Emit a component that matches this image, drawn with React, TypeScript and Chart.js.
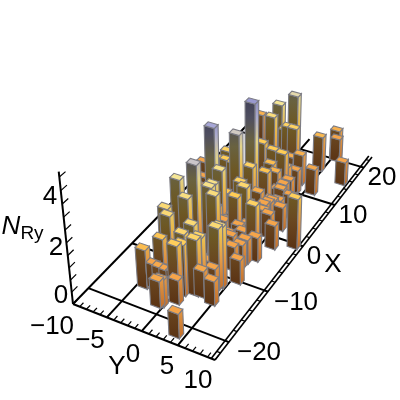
import React, { useEffect, useRef } from "react";
import { Chart, registerables } from "chart.js";
Chart.register(...registerables);

const barY = [-4.1,-3.8,-3.0,-1.8,-1.0,-0.1,-0.8,-0.5,0.9,3.9,4.8,3.0,3.8,5.7,2.6,5.6,4.7,2.7,3.9,2.6,3.6,0.9,0.1,0.8,6.4,3.4,3.7,4.0,
 4.1,3.7,3.9,2.2,3.4,5.9,5.4,5.6,8.6,4.4,-6.2,3.7,0.6,0.2,0.8,1.0,2.2,2.5,3.9,4.2,-2.5,-3.5,-3.9,-1.8,-1.7,-1.8,0.9,
 0.7,-0.7,-0.5,-3.5,-4.0,-3.2,-2.0,1.4,2.8,1.3,-0.4,-1.0,1.1,2.0,0.5,-0.8,1.3,2.8,2.2,5.1,8.9,-2.8,-0.1,0.0,-8.5,-6.6,-5.5,
 2.1,4.6,2.4,5.6,3.5,3.5,2.9,4.9,5.6,0.4,3.5,4.2,3.7,4.7,-3.6,-2.1,2.1,2.0,-0.6,-0.3,1.8,0.9,2.4,2.9,1.5];
const barX = [-16.2,-16.0,-15.7,-16.2,-15.9,-15.7,-18.4,-18.1,-16.8,-21.8,-14.9,-14.3,-12.9,-10.0,-11.9,-5.1,-6.1,-6.3,-8.1,-4.0,-4.8,-2.3,-1.0,-3.7,-1.9,1.5,2.2,2.8,
 5.1,10.4,7.9,11.9,12.5,11.2,20.4,20.1,15.2,16.8,19.1,2.9,-14.6,-15.7,-15.1,-13.0,-14.4,-13.8,-12.1,-11.7,-12.8,-11.7,-8.0,-9.6,-7.5,-2.8,3.0,
 -7.0,-2.9,1.3,4.2,3.1,3.3,3.1,-1.2,-2.8,14.9,13.5,12.4,13.3,13.3,13.5,9.1,8.3,8.1,4.2,-4.7,-0.5,-14.2,-6.7,-6.0,6.2,3.1,1.1,
 -5.9,-7.3,-8.0,4.9,5.3,0.3,-1.4,-0.1,2.0,-4.0,-3.3,-0.1,6.7,3.2,-1.7,-4.6,-0.4,2.6,-4.2,-2.2,-3.4,2.4,6.8,9.0,7.2];
const barZ = [1.6,1,1,1.1,1,1,1.1,1.1,1,1,1,1.1,1,1,1,1,1,1,1,1,1,1,1,1,1,1,1,1,
 1.1,1,1,1.2,1.3,1.1,1.3,1,1,1.5,1.3,1,2.4,2.1,2.1,2.5,2.3,2.3,2.5,2.5,2.5,2.5,3,2.7,3.7,4.4,4.7,
 2.6,2.8,3.6,2.2,2,2,2,2.2,2.4,3.3,3,2.6,2.2,2.2,2,2,2,2,1.8,2.2,2.1,1.8,2.8,2.8,1,1,1,
 1,1,1,1,1,1,1,1,1,1,1,1.1,1,1,1.3,1,1.3,1.2,1.5,1.8,2,2.2,1.4,1.3,1.6];
const xGrid=[-20,-10,0,10,20], yGrid=[-10,-5,0,5];
const xLabels=["\u221220","\u221210","0","10","20"], yLabels=["\u221210","\u22125","0","5","10"], zLabels=["0","2","4"];

const c0=[73,304],c1=[215,360],c2=[372,157],c3=[250,122];
const dx1=c1[0]-c2[0],dx2=c3[0]-c2[0],sx=c0[0]-c1[0]+c2[0]-c3[0];
const dy1=c1[1]-c2[1],dy2=c3[1]-c2[1],sy=c0[1]-c1[1]+c2[1]-c3[1];
const den=dx1*dy2-dx2*dy1;
const g=(sx*dy2-dx2*sy)/den,h=(dx1*sy-sx*dy1)/den;
const a=c1[0]-c0[0]+g*c1[0],b=c3[0]-c0[0]+h*c3[0],d=c1[1]-c0[1]+g*c1[1],e=c3[1]-c0[1]+h*c3[1];
const XMIN=-23.3,XSPAN=46.3,K=-0.01419,VX=252,VY=1966;
function proj(Y:number,X:number,Z:number){
  const s=(Y+10)/20,t=(X-XMIN)/XSPAN;
  const w=g*s+h*t+1+Z*K;
  return {x:(a*s+b*t+c0[0]+Z*K*VX)/w,y:(d*s+e*t+c0[1]+Z*K*VY)/w};
}
const STOPS=[[215,125,50],[245,165,75],[255,205,85],[245,230,150],[185,185,225],[140,140,200]];
function col(z:number,f:number){const i=Math.min(4,Math.floor(z));const u=z-i;const c=STOPS[i].map((v,j)=>(v+(STOPS[i+1][j]-v)*u)*f);return `rgb(${c[0]|0},${c[1]|0},${c[2]|0})`;}
const line=(pts:number[][],w=2)=>({type:"line",data:pts.map(p=>proj(p[0],p[1],p[2]||0)),borderColor:"#000",borderWidth:w,pointRadius:0,fill:false,tension:0});

export default function App(){
  const ref=useRef<HTMLCanvasElement>(null);
  useEffect(()=>{
    const ds:any[]=[];
    for(const Y of yGrid) ds.push(line([[Y,XMIN],[Y,23]]));
    for(const X of xGrid) ds.push(line([[-10,X],[10,X]]));
    ds.push(line([[-10,XMIN],[10,XMIN]]));
    ds.push(line([[10,XMIN],[10,23]],1.6));
    ds.push(line([[9.5,XMIN],[9.5,23]],1.6));
    for(let X=-22;X<=22;X+=2) ds.push(line([[9.5,X],[10,X]],1.2));
    for(let Y=-10;Y<=10;Y++) ds.push(line([[Y,XMIN],[Y,XMIN+0.8]],1.2));
    ds.push(line([[-10,XMIN,0],[-10,XMIN,5.2]]));
    for(let Z=0;Z<=5;Z+=0.5) ds.push(line([[-10,XMIN,Z],[-10,XMIN+1.2,Z]],1.2));
    const plugin={id:"bars",afterDatasetsDraw(ch:any){
      const c=ch.ctx,xs=ch.scales.x,ys=ch.scales.y;
      const P=(Y:number,X:number,Z:number)=>{const p=proj(Y,X,Z);return [xs.getPixelForValue(p.x),ys.getPixelForValue(p.y)];};
      const poly=(pts:number[][],f:any)=>{c.beginPath();pts.forEach((p,i)=>i?c.lineTo(p[0],p[1]):c.moveTo(p[0],p[1]));c.closePath();c.fillStyle=f;c.fill();c.strokeStyle="#7c7c84";c.lineWidth=1.1;c.stroke();};
      const hy=0.72,hx=0.5;
      const order=barY.map((_,i)=>i).sort((u,v)=>proj(barY[u],barX[u],0).y-proj(barY[v],barX[v],0).y);
      for(const n of order){
        const Y=barY[n],X=barX[n],Z=barZ[n];
        const grad=(f:number)=>{const t=P(Y,X,Z),b0=P(Y,X,0);const gr=c.createLinearGradient(b0[0],b0[1],t[0],t[1]);for(let i=0;i<Z;i++)gr.addColorStop(i/Z,col(i,f));gr.addColorStop(1,col(Z,f));return gr;};
        const l=[Y-hy,X-hx],f=[Y+hy,X-hx],r=[Y+hy,X+hx],k=[Y-hy,X+hx];
        poly([P(l[0],l[1],0),P(f[0],f[1],0),P(f[0],f[1],Z),P(l[0],l[1],Z)],grad(0.43));
        poly([P(f[0],f[1],0),P(r[0],r[1],0),P(r[0],r[1],Z),P(f[0],f[1],Z)],grad(0.92));
        poly([P(l[0],l[1],Z),P(f[0],f[1],Z),P(r[0],r[1],Z),P(k[0],k[1],Z)],col(Z,1));
      }
      c.fillStyle="#000";c.textAlign="center";c.textBaseline="middle";c.font="26px 'Liberation Sans'";
      const xP=[[259,352],[296,302],[314,256],[353,215],[382,177]],yP=[[52,326],[90,340],[133,354],[167,366],[198,380]],zP=[[61,295],[56,247],[50,196]];
      xLabels.forEach((s,i)=>c.fillText(s,xP[i][0],xP[i][1]+1));
      yLabels.forEach((s,i)=>c.fillText(s,yP[i][0],yP[i][1]+1));
      zLabels.forEach((s,i)=>c.fillText(s,zP[i][0],zP[i][1]+1));
      c.fillText("X",333,265);c.fillText("Y",117,367);
      c.font="italic 26px 'Liberation Sans'";c.fillText("N",11,227);
      c.font="19px 'Liberation Sans'";c.fillText("Ry",32,234);
    }};
    const chart=new Chart(ref.current!,{type:"scatter",data:{datasets:[...ds,{type:"scatter",label:"NRy",data:barY.map((v,i)=>proj(v,barX[i],barZ[i])),pointRadius:0}]},
      options:{animation:false,responsive:false,layout:{padding:0},plugins:{legend:{display:false},tooltip:{enabled:false}},
      scales:{x:{type:"linear",display:false,min:0,max:400},y:{type:"linear",display:false,min:0,max:400,reverse:true}}},plugins:[plugin]} as any);
    return ()=>chart.destroy();
  },[]);
  return <div style={{position:"absolute",left:0,top:0,width:400,height:400,background:"#fff"}}><canvas ref={ref} width={400} height={400} style={{display:"block"}}/></div>;
}
